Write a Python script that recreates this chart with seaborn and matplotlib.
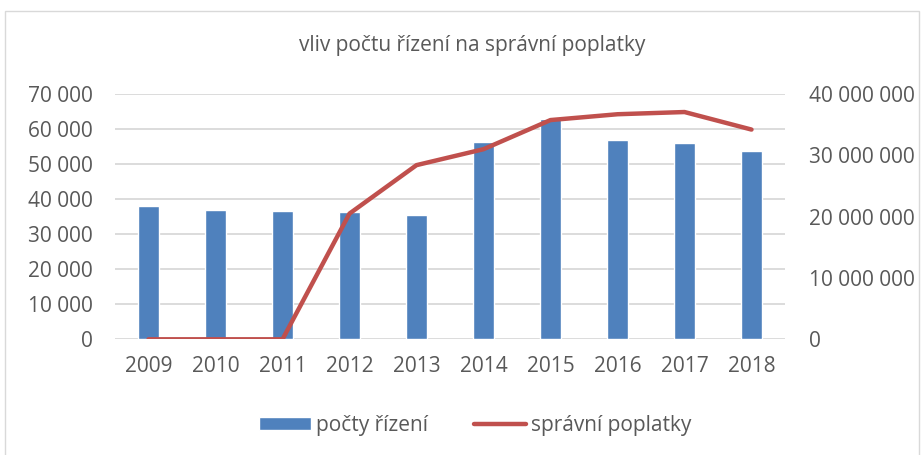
import matplotlib
matplotlib.use("Agg")
import matplotlib.pyplot as plt
import seaborn as sns
import numpy as np
import pandas as pd
from matplotlib.patches import Rectangle
from matplotlib.ticker import FuncFormatter

years = ["2009", "2010", "2011", "2012", "2013", "2014", "2015", "2016", "2017", "2018"]
rizeni = [38000, 37000, 36500, 36300, 35400, 56300, 62900, 56900, 56000, 53700]
poplatky = [0, 0, 0, 20500000, 28400000, 31000000, 35750000, 36700000, 37060000, 34200000]

title = "vliv počtu řízení na správní poplatky"
lab_bar = "počty řízení"
lab_line = "správní poplatky"

sns.set_theme(style="white")
plt.rcParams['font.family'] = ['Open Sans', 'DejaVu Sans']

BLUE = "#4F81BD"
RED = "#C0504D"
GRAY = "#595959"
GRID = "#D9D9D9"
FS = 15

df = pd.DataFrame({"year": years, "rizeni": rizeni, "poplatky": poplatky})

fig = plt.figure(figsize=(9.21, 4.55), dpi=100)
fig.patches.append(Rectangle((5/921, -0.05), (914)/921, 1 - 11/455 + 0.05,
                             transform=fig.transFigure, fill=False,
                             edgecolor="#D9D9D9", linewidth=1.0))
ax = fig.add_axes([115/921, 1 - 339.3/455, 670/921, (339.3 - 94)/455])

sns.barplot(data=df, x="year", y="rizeni", ax=ax, color=BLUE, width=0.31,
            saturation=1, label=lab_bar, zorder=2)
ax.set_ylim(0, 70000)
ax.set_yticks(np.arange(0, 70001, 10000))
fmt = lambda v, p: f"{int(v):,}".replace(",", " ")
ax.yaxis.set_major_formatter(FuncFormatter(fmt))
ax.grid(axis="y", color=GRID, linewidth=1.3, zorder=0)
ax.set_axisbelow(True)
for s in ax.spines.values():
    s.set_visible(False)
ax.set_xlabel("")
ax.set_ylabel("")
ax.tick_params(axis="both", length=0, labelsize=FS, labelcolor=GRAY)
ax.tick_params(axis="y", pad=16)
ax.tick_params(axis="x", pad=12)
ax.set_xlim(-0.5, len(years) - 0.5)

ax2 = ax.twinx()
sns.lineplot(x=np.arange(len(years)), y=df["poplatky"], ax=ax2, color=RED,
             linewidth=3.2, label=lab_line, solid_capstyle="round", zorder=3)
ax2.set_ylim(0, 40000000)
ax2.set_yticks(np.arange(0, 40000001, 10000000))
ax2.yaxis.set_major_formatter(FuncFormatter(fmt))
for s in ax2.spines.values():
    s.set_visible(False)
ax2.set_ylabel("")
ax2.grid(False)
ax2.set_xlim(-0.5, len(years) - 0.5)
if ax2.get_legend():
    ax2.get_legend().remove()
if ax.get_legend():
    ax.get_legend().remove()
ax2.yaxis.set_tick_params(which="major", length=0, labelsize=FS, labelcolor=GRAY, pad=17)

h1, l1 = ax.get_legend_handles_labels()
h2, l2 = ax2.get_legend_handles_labels()
leg = fig.legend(h1 + h2, l1 + l2, loc="center", bbox_to_anchor=(475/921, 1 - 425/455),
                 ncol=2, frameon=False, fontsize=FS, handlelength=2.5,
                 handleheight=0.6, columnspacing=2.2, handletextpad=0.25)
for t in leg.get_texts():
    t.set_color(GRAY)

fig.text(472/921, 1 - 45/455, title, ha="center", va="center", fontsize=FS, color=GRAY)

fig.savefig("out.png", dpi=100)
